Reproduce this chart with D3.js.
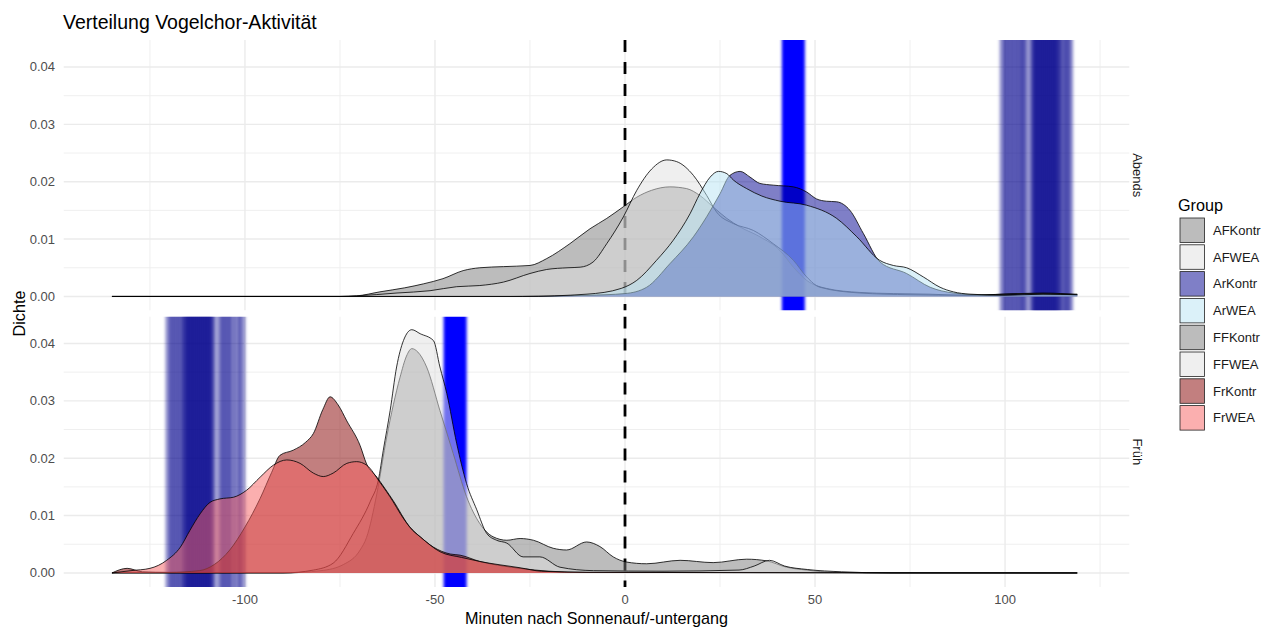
<!DOCTYPE html>
<html>
<head>
<meta charset="utf-8">
<script src="https://cdnjs.cloudflare.com/ajax/libs/d3/7.8.5/d3.min.js"></script>
<style>
  body { margin: 0; background: #fff; }
  svg { font-family: "Liberation Sans", Arial, sans-serif; }
</style>
</head>
<body>
<svg id="chart" width="1274" height="627"></svg>
<script>
// groups, in factor order (this is also the drawing order)
const groups = ["AFKontr", "AFWEA", "ArKontr", "ArWEA", "FFKontr", "FFWEA", "FrKontr", "FrWEA"];
const groupFill = ["#7a7a7a", "#dfdfdf", "#00008f", "#b8e4f4", "#7a7a7a", "#dfdfdf", "#850000", "#f86060"];
const groupPanel = ["Abends", "Abends", "Abends", "Abends", "Früh", "Früh", "Früh", "Früh"];

// density curves: [minutes, density]
const afKontr = [[-135,0],[-75,0],[-70.6,0.0001],[-64.5,0.0008],[-58,0.0015],[-53,0.0022],[-47.9,0.0031],[-42.6,0.0045],[-38.2,0.005],[-32,0.0052],[-25,0.0054],[-20.6,0.0066],[-14.5,0.0092],[-9.2,0.0118],[-4.8,0.0136],[-0.5,0.0156],[3.1,0.0173],[7,0.0185],[11.8,0.0191],[16.2,0.0188],[19.7,0.0176],[23.2,0.0156],[26.8,0.0136],[30.3,0.0121],[35.5,0.0104],[40.8,0.008],[44.3,0.0051],[47.8,0.0028],[53,0.0014],[61.8,0.0007],[70.6,0.0005],[80,0.0004],[90,0.0002],[100,0.0004],[110,0.0006],[119,0.0003]];
const afWEA = [[-135,0],[-75,0],[-70.6,0.0001],[-60,0.0006],[-51.3,0.001],[-44.3,0.0017],[-38.2,0.0019],[-32,0.0025],[-25,0.004],[-20.6,0.0047],[-15,0.005],[-11.8,0.0051],[-8.4,0.006],[-4.8,0.0092],[-0.4,0.0139],[3.1,0.0185],[7,0.0222],[11,0.0238],[13.6,0.0235],[18,0.0211],[21.5,0.0176],[24.1,0.0147],[28.5,0.0127],[33.8,0.0115],[39,0.0092],[44.3,0.0063],[47.8,0.0034],[51.3,0.0016],[61.8,0.0006],[75,0.0003],[90,0.0002],[105,0.0005],[119,0.0004]];
const arKontr = [[-135,0],[-30,0],[-10,0.0002],[0,0.0005],[5.7,0.0016],[11.8,0.0057],[18,0.0104],[21.5,0.0139],[25,0.0179],[27.6,0.0211],[30.3,0.0218],[32.9,0.0208],[35.5,0.0197],[39,0.0194],[44.3,0.0191],[47.8,0.0182],[50.4,0.017],[53,0.0166],[55.7,0.0165],[59.2,0.015],[62.7,0.011],[67.1,0.006],[74.1,0.004],[80.3,0.0016],[86.4,0.0006],[95,0.0002],[105,0.0004],[119,0.0003]];
const arWEA = [[-135,0],[-27,0],[-10,0.0004],[-1,0.0014],[3.1,0.0028],[8.3,0.0063],[12.7,0.0098],[17.1,0.0144],[19.7,0.0179],[22.4,0.0208],[24.6,0.0218],[26.8,0.0214],[28.5,0.0203],[32,0.0188],[36,0.0175],[40.8,0.0166],[47.8,0.0159],[55.7,0.0136],[61,0.0104],[67,0.0063],[70.6,0.0054],[74.1,0.005],[78.5,0.0034],[82.9,0.0016],[86.4,0.0008],[90.8,0.0004],[100,0.0002],[110,0.0004],[119,0.0003]];
const ffKontr = [[-135,0],[-90,0],[-80,0.0004],[-74,0.0015],[-69.7,0.004],[-68,0.0062],[-65.3,0.0138],[-62.7,0.0237],[-59.2,0.0341],[-57.5,0.0378],[-56.1,0.0391],[-54.5,0.0385],[-52.2,0.0359],[-48.7,0.0283],[-45.2,0.0208],[-41.7,0.0133],[-38.2,0.0086],[-34.7,0.0063],[-31.1,0.0057],[-27.6,0.006],[-24.1,0.0057],[-18.9,0.0043],[-15.4,0.004],[-10.1,0.0054],[-6.6,0.0046],[-3.1,0.0028],[0.4,0.0019],[5.7,0.0016],[14.5,0.0022],[23.2,0.0018],[32,0.0024],[37.3,0.0021],[42.5,0.001],[47.8,0.0005],[55,0.0001],[70,0],[119,0]];
const ffWEA = [[-135,0],[-90,0],[-82,0.0005],[-76.8,0.0017],[-71.5,0.0069],[-67,0.0125],[-64.9,0.0162],[-63.6,0.0214],[-61.8,0.0283],[-60.1,0.0359],[-58.3,0.0405],[-56.1,0.0424],[-53.9,0.0417],[-50.4,0.0405],[-48.7,0.0359],[-46.9,0.0313],[-44.3,0.0226],[-41.7,0.0156],[-39,0.011],[-36.4,0.0069],[-33.8,0.0057],[-31.1,0.0052],[-26.8,0.0028],[-22.4,0.0028],[-17.1,0.001],[-8.3,0.0004],[10,0.0003],[30,0.0005],[34,0.0012],[38,0.0022],[42,0.0012],[48,0.0006],[57,0.0002],[70,0],[119,0]];
const frKontr = [[-135,0],[-131,0.0008],[-127,0.0002],[-120,0.0001],[-112,0.0004],[-108,0.0015],[-104,0.004],[-100,0.008],[-96,0.013],[-93,0.0175],[-90.8,0.0205],[-87.3,0.0214],[-84,0.0228],[-82,0.0243],[-79.5,0.0285],[-77.6,0.0307],[-75.5,0.0293],[-73.2,0.0265],[-69.7,0.0222],[-68,0.019],[-65.3,0.0167],[-61,0.0126],[-56.6,0.008],[-53.9,0.0063],[-50.4,0.0045],[-46,0.0033],[-43.4,0.0031],[-38.2,0.002],[-32,0.0012],[-27.6,0.0008],[-20,0.0003],[-10,0.0001],[119,0]];
const frWEA = [[-135,0],[-130,0.0004],[-125,0.0008],[-120.6,0.0022],[-117,0.0045],[-114.5,0.0074],[-111.8,0.0103],[-109.2,0.0123],[-106.6,0.0129],[-103,0.0132],[-99.6,0.0144],[-96,0.0167],[-92.5,0.0188],[-89,0.0197],[-85.5,0.0191],[-82,0.0174],[-79.4,0.0168],[-76.8,0.0174],[-73.2,0.0191],[-70.6,0.0194],[-68,0.0188],[-64.5,0.0158],[-61,0.0124],[-59.2,0.0104],[-56,0.0075],[-53.9,0.0063],[-48.7,0.0037],[-43,0.0027],[-38.2,0.002],[-27.6,0.0009],[-22,0.0003],[-10,0.0001],[119,0]];
const densities = [afKontr, afWEA, arKontr, arWEA, ffKontr, ffWEA, frKontr, frWEA];

// daily sunset / sunrise times (navy lines) and their mean (blue line), minutes
const abendsDays = [99.5,100.5,101.5,102.5,103.5,104.5,105.3,107.2,107.7,108.2,108.7,109.2,109.7,110.2,110.7,111.2,111.7,112.2,112.7,113.2,113.7,114.2,115.2,116.2,117];
const fruehDays = [-120,-119,-118,-117,-116,-115.5,-115,-114.5,-114,-113.5,-113,-112.5,-112,-111.5,-111,-110.5,-110,-109.5,-109,-108.5,-106.5,-105.5,-104.5,-103.5,-102,-100.8];
const abendsMean = [44.3];
const fruehMean = [-44.7];

// axis ticks
const xMajor = [-100, -50, 0, 50, 100];
const xMinor = [-125, -75, -25, 25, 75, 125];
const yMajor = [0, 0.01, 0.02, 0.03, 0.04];
const yMinor = [0.005, 0.015, 0.025, 0.035];

const svg = d3.select("#chart");
const defs = svg.append("defs");

const x = d3.scaleLinear().domain([-147.75, 132.75]).range([63.5, 1129.5]);

const panels = [
  { name: "Abends", top: 40, bottom: 310.5, days: abendsDays, mean: abendsMean },
  { name: "Früh", top: 316.5, bottom: 587, days: fruehDays, mean: fruehMean }
];

// title
svg.append("text")
  .attr("x", 63).attr("y", 29)
  .attr("font-size", 19.5).attr("fill", "#000")
  .text("Verteilung Vogelchor-Aktivität");

panels.forEach((p, pi) => {
  const y = d3.scaleLinear().domain([-0.00245, 0.0447]).range([p.bottom, p.top]);

  defs.append("clipPath").attr("id", "clip" + pi)
    .append("rect")
    .attr("x", x.range()[0]).attr("y", p.top)
    .attr("width", x.range()[1] - x.range()[0]).attr("height", p.bottom - p.top);

  // soft horizontal blur so the stacked daily lines blend like the original
  const blur = defs.append("filter").attr("id", "soft" + pi)
    .attr("filterUnits", "userSpaceOnUse")
    .attr("x", x.range()[0]).attr("y", p.top)
    .attr("width", x.range()[1] - x.range()[0]).attr("height", p.bottom - p.top);
  blur.append("feGaussianBlur").attr("stdDeviation", "1.6 0");

  const g = svg.append("g").attr("clip-path", `url(#clip${pi})`);

  // grid
  g.selectAll(".xminor").data(xMinor).join("line")
    .attr("x1", d => x(d)).attr("x2", d => x(d))
    .attr("y1", p.top).attr("y2", p.bottom)
    .attr("stroke", "#ededed").attr("stroke-width", 0.9);
  g.selectAll(".yminor").data(yMinor).join("line")
    .attr("x1", x.range()[0]).attr("x2", x.range()[1])
    .attr("y1", d => y(d)).attr("y2", d => y(d))
    .attr("stroke", "#ededed").attr("stroke-width", 0.9);
  g.selectAll(".xmajor").data(xMajor).join("line")
    .attr("x1", d => x(d)).attr("x2", d => x(d))
    .attr("y1", p.top).attr("y2", p.bottom)
    .attr("stroke", "#ebebeb").attr("stroke-width", 1.4);
  g.selectAll(".ymajor").data(yMajor).join("line")
    .attr("x1", x.range()[0]).attr("x2", x.range()[1])
    .attr("y1", d => y(d)).attr("y2", d => y(d))
    .attr("stroke", "#ebebeb").attr("stroke-width", 1.4);

  // navy daily lines
  g.append("g").attr("filter", `url(#soft${pi})`)
    .selectAll("rect").data(p.days).join("rect")
    .attr("x", d => x(d) - 3.5).attr("width", 7)
    .attr("y", p.top).attr("height", p.bottom - p.top)
    .attr("fill", "#00008b").attr("fill-opacity", 0.45);

  // blue mean line
  g.append("g").attr("filter", `url(#soft${pi})`)
    .selectAll("line").data(p.mean).join("line")
    .attr("x1", d => x(d)).attr("x2", d => x(d))
    .attr("y1", p.top).attr("y2", p.bottom)
    .attr("stroke", "#0000ff").attr("stroke-width", 23);

  // dashed zero line
  g.append("line")
    .attr("x1", x(0)).attr("x2", x(0))
    .attr("y1", p.top).attr("y2", p.bottom)
    .attr("stroke", "#000").attr("stroke-width", 2.8)
    .attr("stroke-dasharray", "12,10");

  const area = d3.area().x(d => x(d[0])).y0(y(0)).y1(d => y(d[1])).curve(d3.curveMonotoneX);
  const line = d3.line().x(d => x(d[0])).y(d => y(d[1])).curve(d3.curveMonotoneX);

  groups.forEach((grp, gi) => {
    if (groupPanel[gi] !== p.name) return;
    g.append("path").datum(densities[gi])
      .attr("d", area)
      .attr("fill", groupFill[gi]).attr("fill-opacity", 0.5);
    g.append("path").datum(densities[gi])
      .attr("d", line)
      .attr("fill", "none").attr("stroke", "#000").attr("stroke-width", 0.8);
  });

  // y tick labels
  svg.append("g").selectAll("text").data(yMajor).join("text")
    .attr("x", 55).attr("y", d => y(d) + 4.5)
    .attr("text-anchor", "end").attr("font-size", 13).attr("fill", "#4d4d4d")
    .text(d3.format(".2f"));

  // strip label
  const cy = (p.top + p.bottom) / 2;
  svg.append("text")
    .attr("transform", `translate(1133,${cy}) rotate(90)`)
    .attr("text-anchor", "middle").attr("font-size", 13).attr("fill", "#1a1a1a")
    .text(p.name);

  // x tick labels only below the last panel
  if (pi === panels.length - 1) {
    svg.append("g").selectAll("text").data(xMajor).join("text")
      .attr("x", d => x(d)).attr("y", p.bottom + 16.5)
      .attr("text-anchor", "middle").attr("font-size", 13).attr("fill", "#4d4d4d")
      .text(d => String(d));
  }
});

// axis titles
svg.append("text")
  .attr("x", (x.range()[0] + x.range()[1]) / 2).attr("y", 623.5)
  .attr("text-anchor", "middle").attr("font-size", 16.2).attr("fill", "#000")
  .text("Minuten nach Sonnenauf/-untergang");

svg.append("text")
  .attr("transform", `translate(25,313.5) rotate(-90)`)
  .attr("text-anchor", "middle").attr("font-size", 16.2).attr("fill", "#000")
  .text("Dichte");

// legend
const legend = svg.append("g");
legend.append("text")
  .attr("x", 1178).attr("y", 210.5)
  .attr("font-size", 16.2).attr("fill", "#000")
  .text("Group");

const keyTop = 218, keyStep = 26.8, keySize = 24.5;
const keys = legend.selectAll(".key").data(groups).join("g")
  .attr("transform", (d, i) => `translate(1180,${keyTop + i * keyStep})`);
keys.append("rect")
  .attr("width", keySize).attr("height", keySize)
  .attr("fill", (d, i) => groupFill[i]).attr("fill-opacity", 0.5)
  .attr("stroke", "#222").attr("stroke-width", 0.8);
keys.append("text")
  .attr("x", 33).attr("y", keySize / 2 + 4.5)
  .attr("font-size", 13).attr("fill", "#1a1a1a")
  .text(d => d);
</script>
</body>
</html>
